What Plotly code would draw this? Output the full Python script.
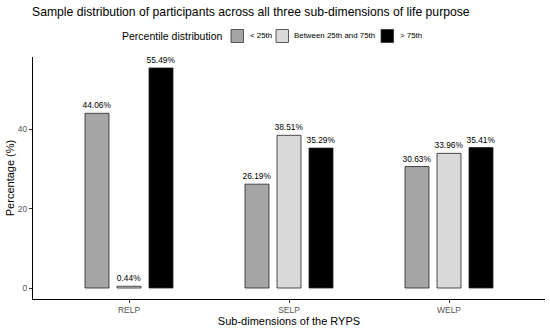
import plotly.graph_objects as go

categories = ["RELP", "SELP", "WELP"]
series_names = ["< 25th", "Between 25th and 75th", "> 75th"]
below_25 = [44.06, 26.19, 30.63]
between_25_75 = [0.44, 38.51, 33.96]
above_75 = [55.49, 35.29, 35.41]
y_ticks = [0, 20, 40]

colors = ["#A6A6A6", "#D9D9D9", "#000000"]
series = [below_25, between_25_75, above_75]

W, H = 550, 328
ML, MR, MT, MB = 33, 5, 57, 29
PW, PH = W - ML - MR, H - MT - MB


def px(x):
    return (x - ML) / PW


def py(y):
    return (H - MB - y) / PH


fig = go.Figure()
for name, vals, col in zip(series_names, series, colors):
    fig.add_trace(go.Bar(
        x=categories, y=vals, name=name, showlegend=False,
        marker=dict(color=col, line=dict(color="#222222", width=0.8)),
        text=[f"{v:.2f}%" for v in vals], textposition="outside",
        constraintext="none",
        textfont=dict(size=8.4, color="#000000"), cliponaxis=False,
        hoverinfo="skip",
    ))

# legend (drawn manually for ggplot-like compact spacing)
leg_y = 36
legend_items = [(231, 248), (276, 292), (381, 398)]
fig.add_annotation(text="Percentile distribution", x=px(225), y=py(leg_y), xref="paper", yref="paper",
                   xanchor="right", yanchor="middle", showarrow=False, font=dict(size=10.5, color="#000000"))
for (sx, tx), name, col in zip(legend_items, series_names, colors):
    fig.add_shape(type="rect", xref="paper", yref="paper",
                  x0=px(sx), x1=px(sx + 12.5), y0=py(leg_y + 6.5), y1=py(leg_y - 6.5),
                  fillcolor=col, line=dict(color="#333333", width=0.8))
    fig.add_annotation(text=name, x=px(tx), y=py(leg_y), xref="paper", yref="paper",
                       xanchor="left", yanchor="middle", showarrow=False,
                       font=dict(size=7.9, color="#000000"))

fig.update_layout(
    width=W, height=H,
    margin=dict(l=ML, r=MR, t=MT, b=MB),
    paper_bgcolor="white", plot_bgcolor="white",
    font=dict(family="Liberation Sans, Arial, sans-serif", color="#000000"),
    barmode="group", bargap=0.4, bargroupgap=0.25,
    showlegend=False,
    title=dict(text="Sample distribution of participants across all three sub-dimensions of life purpose",
               x=32 / W, xanchor="left", y=1 - 12 / H, yanchor="middle",
               font=dict(size=12.2, color="#000000")),
)
fig.update_xaxes(
    range=[-0.6, 2.6], showline=True, linecolor="#000000", linewidth=1,
    ticks="outside", ticklen=3, tickcolor="#333333", automargin=False,
    tickfont=dict(size=8.5, color="#555555"),
    title=dict(text="Sub-dimensions of the RYPS", font=dict(size=11), standoff=0),
    showgrid=False, zeroline=False,
)
fig.update_yaxes(
    range=[-2.77, 58.26], tickvals=y_ticks, showline=True, linecolor="#000000", linewidth=1,
    ticks="outside", ticklen=3, tickcolor="#333333", automargin=False,
    tickfont=dict(size=8.5, color="#555555"),
    title=dict(text="Percentage (%)", font=dict(size=11), standoff=0),
    showgrid=False, zeroline=False,
)
fig.write_html("out.html", config={"displayModeBar": False},
               post_script="document.body.style.margin='0';")
